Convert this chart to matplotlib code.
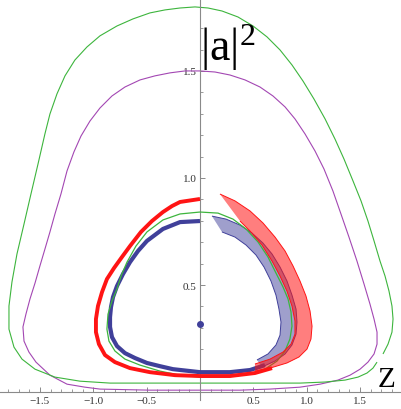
import matplotlib
matplotlib.use("Agg")
import matplotlib.pyplot as plt
import numpy as np
from matplotlib.patches import Polygon

# ---- data (Z, |a|^2) ----
green_outer_z = [1.715, 1.762, 1.799, 1.809, 1.799, 1.771, 1.734, 1.687, 1.631, 1.574,
                 1.509, 1.434, 1.349, 1.265, 1.172, 1.068, 0.965, 0.862, 0.750, 0.628,
                 0.497, 0.356, 0.206, 0.075, -0.047, -0.187, -0.328, -0.469, -0.628, -0.778,
                 -0.937, -1.059, -1.172, -1.265, -1.340, -1.406, -1.453, -1.518, -1.584, -1.649,
                 -1.715, -1.762, -1.790, -1.790, -1.743, -1.668, -1.546, -1.359, -1.125, -0.843,
                 -0.469, 0.0, 0.469, 0.937, 1.172, 1.359, 1.481, 1.565, 1.621, 1.659]
green_outer_a = [0.178, 0.224, 0.280, 0.341, 0.402, 0.472, 0.542, 0.612, 0.706, 0.799,
                 0.893, 0.986, 1.089, 1.182, 1.276, 1.369, 1.453, 1.528, 1.598, 1.659,
                 1.710, 1.752, 1.780, 1.794, 1.799, 1.794, 1.785, 1.771, 1.743, 1.710,
                 1.664, 1.612, 1.551, 1.477, 1.393, 1.299, 1.206, 1.065, 0.925, 0.785,
                 0.645, 0.514, 0.402, 0.294, 0.210, 0.154, 0.107, 0.070, 0.051, 0.042,
                 0.042, 0.042, 0.042, 0.042, 0.047, 0.056, 0.070, 0.089, 0.112, 0.140]

purple_z = [0.0, 0.141, 0.281, 0.422, 0.562, 0.684, 0.797, 0.890, 0.984, 1.078,
            1.162, 1.246, 1.321, 1.396, 1.471, 1.537, 1.593, 1.631, 1.659, 1.659,
            1.631, 1.574, 1.500, 1.406, 1.293, 1.125, 0.937, 0.656, 0.375, 0.0,
            -0.469, -0.937, -1.078, -1.246, -1.406, -1.537, -1.603, -1.649, -1.659, -1.631,
            -1.593, -1.546, -1.500, -1.453, -1.406, -1.359, -1.303, -1.246, -1.181, -1.115,
            -1.031, -0.937, -0.825, -0.703, -0.562, -0.422, -0.281, -0.141, 0.0]
purple_a = [1.500, 1.495, 1.481, 1.458, 1.425, 1.383, 1.332, 1.276, 1.206, 1.126,
            1.042, 0.939, 0.832, 0.724, 0.612, 0.505, 0.411, 0.341, 0.280, 0.224,
            0.178, 0.140, 0.107, 0.079, 0.056, 0.037, 0.023, 0.014, 0.009, 0.009,
            0.009, 0.014, 0.023, 0.037, 0.079, 0.140, 0.187, 0.238, 0.304, 0.364,
            0.435, 0.509, 0.589, 0.668, 0.748, 0.832, 0.925, 1.033, 1.122, 1.196,
            1.266, 1.327, 1.383, 1.425, 1.458, 1.477, 1.491, 1.500, 1.500]

green_inner_z = [0.0, -0.187, -0.347, -0.497, -0.600, -0.684, -0.740, -0.778, -0.825, -0.862,
                 -0.872, -0.853, -0.797, -0.703, -0.562, -0.375, -0.187, 0.0, 0.234, 0.469,
                 0.609, 0.722, 0.797, 0.843, 0.862, 0.853, 0.825, 0.778, 0.712, 0.637,
                 0.544, 0.431, 0.309, 0.169, 0.0]
green_inner_a = [0.841, 0.832, 0.804, 0.748, 0.682, 0.607, 0.542, 0.481, 0.425, 0.364,
                 0.294, 0.238, 0.192, 0.154, 0.126, 0.098, 0.079, 0.070, 0.070, 0.084,
                 0.107, 0.145, 0.192, 0.248, 0.308, 0.374, 0.435, 0.491, 0.556, 0.631,
                 0.701, 0.762, 0.808, 0.836, 0.841]

red_z = [0.0, -0.187, -0.262, -0.347, -0.450, -0.553, -0.656, -0.731, -0.806, -0.872,
         -0.918, -0.956, -0.975, -0.975, -0.947, -0.890, -0.797, -0.656, -0.469, -0.234,
         0.0, 0.281, 0.515, 0.675]
red_a = [0.902, 0.888, 0.869, 0.841, 0.799, 0.748, 0.682, 0.631, 0.579, 0.528,
         0.467, 0.402, 0.341, 0.280, 0.224, 0.173, 0.140, 0.112, 0.093, 0.079,
         0.075, 0.075, 0.089, 0.112]
red_fan_outer_z = [0.515, 0.656, 0.815, 0.928, 1.003, 1.040, 1.050, 1.031, 0.993, 0.937,
                   0.872, 0.797, 0.703, 0.590, 0.469, 0.328, 0.187]
red_fan_outer_a = [0.098, 0.112, 0.136, 0.164, 0.201, 0.248, 0.308, 0.379, 0.449, 0.519,
                   0.589, 0.659, 0.724, 0.790, 0.846, 0.893, 0.925]
red_fan_inner_z = [0.375, 0.469, 0.581, 0.675, 0.750, 0.815, 0.862, 0.890, 0.890, 0.853,
                   0.778, 0.656, 0.515]
red_fan_inner_a = [0.799, 0.752, 0.687, 0.612, 0.542, 0.472, 0.402, 0.332, 0.271, 0.224,
                   0.187, 0.154, 0.131]

blue_z = [0.0, -0.187, -0.347, -0.497, -0.581, -0.656, -0.722, -0.778, -0.815, -0.834,
          -0.843, -0.843, -0.825, -0.778, -0.703, -0.609, -0.497, -0.375, -0.253, 0.0,
          0.281, 0.469, 0.609]
blue_a = [0.799, 0.794, 0.762, 0.706, 0.659, 0.607, 0.551, 0.495, 0.444, 0.397,
          0.350, 0.304, 0.257, 0.215, 0.182, 0.159, 0.136, 0.121, 0.107, 0.093,
          0.093, 0.103, 0.126]
blue_fan_outer_z = [0.581, 0.703, 0.797, 0.862, 0.900, 0.909, 0.900, 0.862, 0.815, 0.750,
                    0.675, 0.590, 0.487, 0.375, 0.244, 0.112]
blue_fan_outer_a = [0.117, 0.145, 0.178, 0.220, 0.271, 0.327, 0.388, 0.453, 0.519, 0.584,
                    0.645, 0.696, 0.743, 0.780, 0.808, 0.822]
blue_fan_inner_z = [0.206, 0.328, 0.431, 0.525, 0.600, 0.665, 0.712, 0.740, 0.759, 0.750,
                    0.712, 0.637, 0.534]
blue_fan_inner_a = [0.748, 0.724, 0.687, 0.640, 0.584, 0.519, 0.453, 0.388, 0.327, 0.266,
                    0.220, 0.178, 0.150]

fixed_point = (0.0, 0.318)

x_major = [-1.5, -1.0, -0.5, 0.5, 1.0, 1.5]
x_labels = ["\u22121.5", "\u22121.0", "\u22120.5", "0.5", "1.0", "1.5"]
y_major = [0.5, 1.0, 1.5]
y_labels = ["0.5", "1.0", "1.5"]

GREEN = "#3DB53D"
PURPLE = "#A347B3"
RED = "#FF1414"
BLUE = "#40409A"
AXIS = "#8A8A8A"

plt.rcParams["font.family"] = ["Liberation Serif", "DejaVu Serif"]
plt.rcParams["mathtext.fontset"] = "custom"
plt.rcParams["mathtext.rm"] = "Liberation Serif"
plt.rcParams["mathtext.default"] = "rm"

fig = plt.figure(figsize=(4.02, 4.10), dpi=100)
ax = fig.add_axes([0, 0, 1, 1])

line_kw = dict(solid_joinstyle="round", solid_capstyle="butt")

# outer orbits
ax.plot(purple_z, purple_a, color=PURPLE, lw=0.8, zorder=2, **line_kw)
ax.plot(green_outer_z, green_outer_a, color=GREEN, lw=0.8, zorder=2, **line_kw)

# blue trajectory: thick loop + fanned strands
ax.plot(blue_z, blue_a, color=BLUE, lw=3.0, zorder=3, **line_kw)
blue_fan = np.column_stack([blue_fan_outer_z + blue_fan_inner_z,
                            blue_fan_outer_a + blue_fan_inner_a])
ax.add_patch(Polygon(blue_fan, closed=True, facecolor=BLUE, alpha=0.5,
                     edgecolor="none", zorder=3))
ax.plot(blue_fan_outer_z, blue_fan_outer_a, color=BLUE, lw=0.7, zorder=3, **line_kw)
ax.plot(blue_fan_inner_z, blue_fan_inner_a, color=BLUE, lw=0.7, zorder=3, **line_kw)

ax.plot(green_inner_z, green_inner_a, color=GREEN, lw=0.9, zorder=4, **line_kw)

# red trajectory: thick loop + fanned strands
ax.plot(red_z, red_a, color=RED, lw=2.8, zorder=5, **line_kw)
red_fan = np.column_stack([red_fan_outer_z + red_fan_inner_z,
                           red_fan_outer_a + red_fan_inner_a])
ax.add_patch(Polygon(red_fan, closed=True, facecolor=RED, alpha=0.55,
                     edgecolor="none", zorder=5))
ax.plot(red_fan_outer_z, red_fan_outer_a, color=RED, lw=0.7, zorder=5, **line_kw)
ax.plot(red_fan_inner_z, red_fan_inner_a, color=RED, lw=0.7, zorder=5, **line_kw)

ax.plot([fixed_point[0]], [fixed_point[1]], "o", color=BLUE, ms=4, zorder=6)

# Mathematica-like axes crossing at the origin
ax.set_xlim(-1.874, 1.893)
ax.set_ylim(-0.079, 1.836)
for side in ["top", "right"]:
    ax.spines[side].set_visible(False)
ax.spines["left"].set_position(("data", 0))
ax.spines["bottom"].set_position(("data", 0))
ax.spines["left"].set_bounds(-0.035, 1.836)
for side in ["left", "bottom"]:
    ax.spines[side].set_color(AXIS)
    ax.spines[side].set_linewidth(0.8)
ax.patch.set_visible(False)

ax.set_xticks(x_major)
ax.set_xticklabels(x_labels)
ax.set_yticks(y_major)
ax.set_yticklabels(y_labels)
ax.set_xticks(np.round(np.arange(-1.8, 1.81, 0.1), 2), minor=True)
ax.set_yticks(np.round(np.arange(0.1, 1.81, 0.1), 2), minor=True)
ax.tick_params(which="major", direction="in", length=3.5, width=0.7, color=AXIS,
               labelsize=8, labelcolor="#333333", pad=2.5)
ax.tick_params(which="minor", direction="in", length=2.0, width=0.6, color=AXIS)

# axis labels
ax.text(0.0, 1.55, r"$|a|^{2}$", fontsize=33, ha="left", va="baseline", zorder=7)
ax.text(1.748, 0.028, "Z", fontsize=21, ha="center", va="baseline", zorder=7)

fig.savefig("out.png", dpi=100)
